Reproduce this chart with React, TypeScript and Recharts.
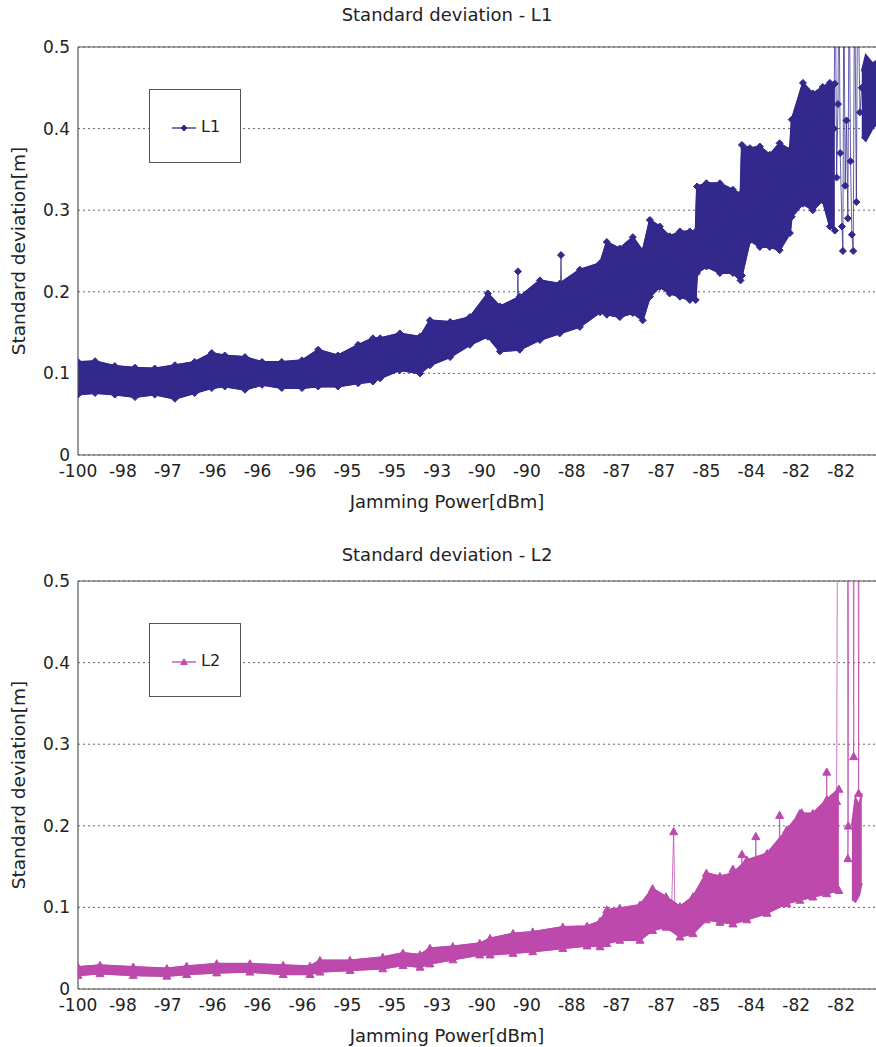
import React from 'react';
import { ComposedChart, Area, Line, XAxis, YAxis, CartesianGrid, ReferenceLine, Legend } from 'recharts';

// Category tick labels (x axis positions are tick indices 0..17)
const xTickLabels = ['-100', '-98', '-97', '-96', '-96', '-96', '-95', '-95', '-93', '-90', '-90', '-88', '-87', '-87', '-85', '-84', '-82', '-82'];
const xTicks = xTickLabels.map((_, i) => i);
const yTicks = [0, 0.1, 0.2, 0.3, 0.4, 0.5];

// ---- L1: envelope of the dense series (x in tick units) ----
const l1X = [0, 0.38, 0.82, 1.27, 1.71, 2.16, 2.6, 2.98, 3.27, 3.72, 4.1, 4.54, 4.99, 5.35, 5.79, 6.24, 6.57, 6.73, 7.17, 7.62, 7.84, 8.29, 8.73, 9.13, 9.4, 9.84, 10.29, 10.73, 11.18, 11.63, 11.78, 12.07, 12.36, 12.58, 12.74, 12.96, 13.18, 13.41, 13.63, 13.76, 13.79, 14.0, 14.3, 14.59, 14.76, 14.79, 14.97, 15.19, 15.41, 15.63, 15.86, 15.9, 16.15, 16.37, 16.59, 16.75, 16.86];
const l1Low = [0.074, 0.076, 0.074, 0.071, 0.074, 0.069, 0.076, 0.082, 0.084, 0.080, 0.086, 0.082, 0.082, 0.084, 0.084, 0.088, 0.090, 0.094, 0.104, 0.100, 0.110, 0.120, 0.135, 0.145, 0.127, 0.129, 0.141, 0.149, 0.157, 0.175, 0.172, 0.169, 0.174, 0.165, 0.194, 0.206, 0.198, 0.194, 0.190, 0.190, 0.223, 0.231, 0.223, 0.223, 0.214, 0.220, 0.263, 0.255, 0.255, 0.251, 0.272, 0.292, 0.308, 0.300, 0.312, 0.280, 0.275];
const l1High = [0.114, 0.115, 0.109, 0.107, 0.106, 0.110, 0.114, 0.125, 0.122, 0.120, 0.114, 0.114, 0.116, 0.129, 0.122, 0.135, 0.143, 0.143, 0.149, 0.145, 0.165, 0.163, 0.169, 0.198, 0.182, 0.194, 0.214, 0.210, 0.227, 0.235, 0.261, 0.253, 0.267, 0.250, 0.288, 0.280, 0.268, 0.274, 0.274, 0.274, 0.329, 0.333, 0.333, 0.325, 0.320, 0.380, 0.376, 0.378, 0.368, 0.382, 0.374, 0.411, 0.456, 0.443, 0.451, 0.456, 0.455];
const l1TailX = [17.46, 17.55, 17.7, 17.85, 18.0];
const l1TailLow = [0.39, 0.385, 0.40, 0.41, 0.41];
const l1TailHigh = [0.47, 0.49, 0.48, 0.485, 0.48];
const l1SpikeX = [9.78, 9.8, 9.82, 10.74, 10.76, 10.78, 13.0, 16.84, 16.87, 16.9, 16.93, 16.95, 16.98, 17.02, 17.04, 17.06, 17.09, 17.12, 17.15, 17.18, 17.21, 17.24, 17.27, 17.3, 17.34, 17.37, 17.42, 17.46];
const l1SpikeY = [0.17, 0.225, 0.17, 0.19, 0.245, 0.19, 0.24, 0.40, 0.60, 0.34, 0.43, 0.60, 0.37, 0.28, 0.25, 0.60, 0.33, 0.41, 0.29, 0.60, 0.36, 0.27, 0.25, 0.60, 0.31, 0.60, 0.42, 0.45];

// ---- L2 ----
const l2X = [0, 0.49, 1.23, 1.98, 2.42, 3.09, 3.83, 4.57, 5.17, 5.39, 6.06, 6.79, 7.24, 7.62, 7.84, 8.35, 8.95, 9.18, 9.69, 10.13, 10.8, 11.34, 11.63, 11.78, 12.07, 12.52, 12.8, 13.1, 13.41, 13.7, 14.0, 14.3, 14.59, 14.9, 15.35, 15.79, 16.08, 16.37, 16.68, 16.95];
const l2Low = [0.017, 0.019, 0.017, 0.016, 0.018, 0.020, 0.021, 0.018, 0.018, 0.021, 0.023, 0.025, 0.029, 0.027, 0.031, 0.036, 0.042, 0.042, 0.044, 0.046, 0.050, 0.053, 0.052, 0.056, 0.060, 0.060, 0.072, 0.076, 0.064, 0.068, 0.085, 0.082, 0.080, 0.085, 0.093, 0.105, 0.109, 0.113, 0.117, 0.121];
const l2High = [0.027, 0.029, 0.027, 0.025, 0.028, 0.031, 0.031, 0.029, 0.028, 0.035, 0.035, 0.039, 0.044, 0.042, 0.050, 0.052, 0.056, 0.062, 0.068, 0.070, 0.076, 0.077, 0.083, 0.097, 0.099, 0.103, 0.123, 0.113, 0.101, 0.113, 0.142, 0.138, 0.142, 0.158, 0.166, 0.195, 0.215, 0.215, 0.232, 0.245];
const l2TailX = [17.24, 17.32, 17.4, 17.46];
const l2TailLow = [0.110, 0.107, 0.115, 0.13];
const l2TailHigh = [0.20, 0.234, 0.225, 0.24];
const l2SpikeX = [13.22, 13.27, 13.3, 14.57, 14.59, 14.61, 14.77, 14.79, 14.81, 15.08, 15.1, 15.12, 15.61, 15.63, 15.65, 16.1, 16.12, 16.14, 16.66, 16.68, 16.7, 16.9, 16.92, 17.14, 17.15, 17.16, 17.17, 17.27, 17.28, 17.29, 17.38, 17.39, 17.4];
const l2SpikeY = [0.09, 0.193, 0.09, 0.10, 0.147, 0.10, 0.11, 0.165, 0.11, 0.12, 0.187, 0.12, 0.13, 0.213, 0.13, 0.15, 0.216, 0.15, 0.16, 0.266, 0.16, 0.23, 0.60, 0.60, 0.16, 0.20, 0.60, 0.60, 0.285, 0.60, 0.60, 0.24, 0.60];

const FONT = 'DejaVu Sans, Arial, sans-serif';
const L1_COLOR = '#33288c';
const L2_COLOR = '#bc49ab';

const toBand = (xs: number[], lo: number[], hi: number[]) => xs.map((x, i) => ({ x, range: [lo[i], hi[i]] }));
const toPts = (xs: number[], ys: number[]) => xs.map((x, i) => ({ x, y: ys[i] }));

const Diamond = ({ cx, cy, color, s = 3.5 }: any) => (
  <polygon points={`${cx},${cy - s} ${cx + s},${cy} ${cx},${cy + s} ${cx - s},${cy}`} fill={color} stroke={color} />
);
const Triangle = ({ cx, cy, color, s = 4 }: any) => (
  <polygon points={`${cx},${cy - s} ${cx + s},${cy + s * 0.8} ${cx - s},${cy + s * 0.8}`} fill={color} stroke={color} />
);

const makeDot = (kind: string, color: string) => (props: any) => {
  const { cx, cy, value, index } = props;
  if (cx == null || cy == null || value > 0.5) return <g key={`d${index}`} />;
  return kind === 'diamond' ? <Diamond key={`d${index}`} cx={cx} cy={cy} color={color} /> : <Triangle key={`d${index}`} cx={cx} cy={cy} color={color} />;
};

const LegendBox = ({ name, color, kind }: any) => (
  <div style={{ width: 92, height: 74, border: '1px solid #555', background: '#fff', boxSizing: 'border-box', position: 'relative', fontFamily: FONT, fontSize: 16, color: '#222' }}>
    <svg width={30} height={12} style={{ position: 'absolute', left: 21, top: 32 }}>
      <line x1={1} y1={6} x2={25} y2={6} stroke={color} strokeWidth={1.3} />
      {kind === 'diamond' ? <Diamond cx={13} cy={6} color={color} s={3} /> : <Triangle cx={13} cy={6} color={color} s={3.2} />}
    </svg>
    <span style={{ position: 'absolute', left: 51, top: 27, lineHeight: '20px' }}>{name}</span>
  </div>
);

function Panel({ top, titleTop, title, name, color, kind, band, tail, spikes, edgeLow, edgeHigh }: any) {
  const dot = makeDot(kind, color);
  return (
    <div style={{ position: 'absolute', left: 0, top, width: 900, height: 520 }}>
      <div style={{ position: 'absolute', left: 0, top: titleTop, width: 894, textAlign: 'center', fontFamily: FONT, fontSize: 18, lineHeight: '22px', color: '#222', zIndex: 2 }}>{title}</div>
      <ComposedChart width={900} height={520} margin={{ top: 47, right: 14, bottom: 0, left: 0 }}>
        <CartesianGrid vertical={false} stroke="#666" strokeDasharray="2 3" />
        <XAxis
          type="number"
          dataKey="x"
          domain={[0, 18]}
          ticks={xTicks}
          allowDataOverflow
          interval={0}
          height={65}
          tickLine={false}
          tickMargin={4}
          axisLine={{ stroke: '#555', strokeWidth: 1.2 }}
          tickFormatter={(v: number) => xTickLabels[v] ?? ''}
          tick={{ fontSize: 17, fill: '#222', fontFamily: FONT }}
          label={{
            value: 'Jamming Power[dBm]',
            content: () => (
              <text x={447} y={508} textAnchor="middle" fontSize={18} fontFamily={FONT} fill="#222">Jamming Power[dBm]</text>
            ),
          }}
        />
        <YAxis
          type="number"
          domain={[0, 0.5]}
          ticks={yTicks}
          allowDataOverflow
          width={78}
          tickLine={false}
          axisLine={{ stroke: '#555', strokeWidth: 1.2 }}
          tick={{ fontSize: 17, fill: '#222', fontFamily: FONT }}
          label={{
            value: 'Standard deviation[m]',
            content: (p: any) => {
              const vb = p.viewBox || { y: 47, height: 408 };
              const cy = vb.y + vb.height / 2;
              return (
                <text x={18} y={cy} transform={`rotate(-90 18 ${cy})`} textAnchor="middle" dominantBaseline="central" fontSize={18.5} fontFamily={FONT} fill="#222">Standard deviation[m]</text>
              );
            },
          }}
        />
        <ReferenceLine y={0.5} stroke="#555" strokeWidth={1.2} ifOverflow="extendDomain" />
        <Area data={band} dataKey="range" type="linear" stroke={color} strokeWidth={2} fill={color} fillOpacity={1} isAnimationActive={false} dot={false} activeDot={false} />
        <Area data={tail} dataKey="range" type="linear" stroke={color} strokeWidth={2} fill={color} fillOpacity={1} isAnimationActive={false} dot={false} activeDot={false} />
        <Line data={edgeLow} dataKey="y" type="linear" stroke={color} strokeWidth={1.5} dot={dot} activeDot={false} isAnimationActive={false} />
        <Line data={edgeHigh} dataKey="y" type="linear" stroke={color} strokeWidth={1.5} dot={dot} activeDot={false} isAnimationActive={false} />
        <Line data={spikes} dataKey="y" type="linear" stroke={color} strokeWidth={1} strokeOpacity={0.75} dot={dot} activeDot={false} isAnimationActive={false} />
        <Legend
          layout="vertical"
          align="center"
          verticalAlign="middle"
          wrapperStyle={{ left: 149, top: 89, width: 92, height: 74 }}
          content={() => <LegendBox name={name} color={color} kind={kind} />}
        />
      </ComposedChart>
    </div>
  );
}

export default function App() {
  return (
    <div style={{ position: 'absolute', left: 0, top: 0, width: 876, height: 1047, overflow: 'hidden', background: '#fff' }}>
      <Panel
        top={0}
        titleTop={4}
        title="Standard deviation - L1"
        name="L1"
        color={L1_COLOR}
        kind="diamond"
        band={toBand(l1X, l1Low, l1High)}
        tail={toBand(l1TailX, l1TailLow, l1TailHigh)}
        spikes={toPts(l1SpikeX, l1SpikeY)}
        edgeLow={toPts(l1X, l1Low)}
        edgeHigh={toPts(l1X, l1High)}
      />
      <Panel
        top={534}
        titleTop={10}
        title="Standard deviation - L2"
        name="L2"
        color={L2_COLOR}
        kind="triangle"
        band={toBand(l2X, l2Low, l2High)}
        tail={toBand(l2TailX, l2TailLow, l2TailHigh)}
        spikes={toPts(l2SpikeX, l2SpikeY)}
        edgeLow={toPts(l2X, l2Low)}
        edgeHigh={toPts(l2X, l2High)}
      />
    </div>
  );
}
